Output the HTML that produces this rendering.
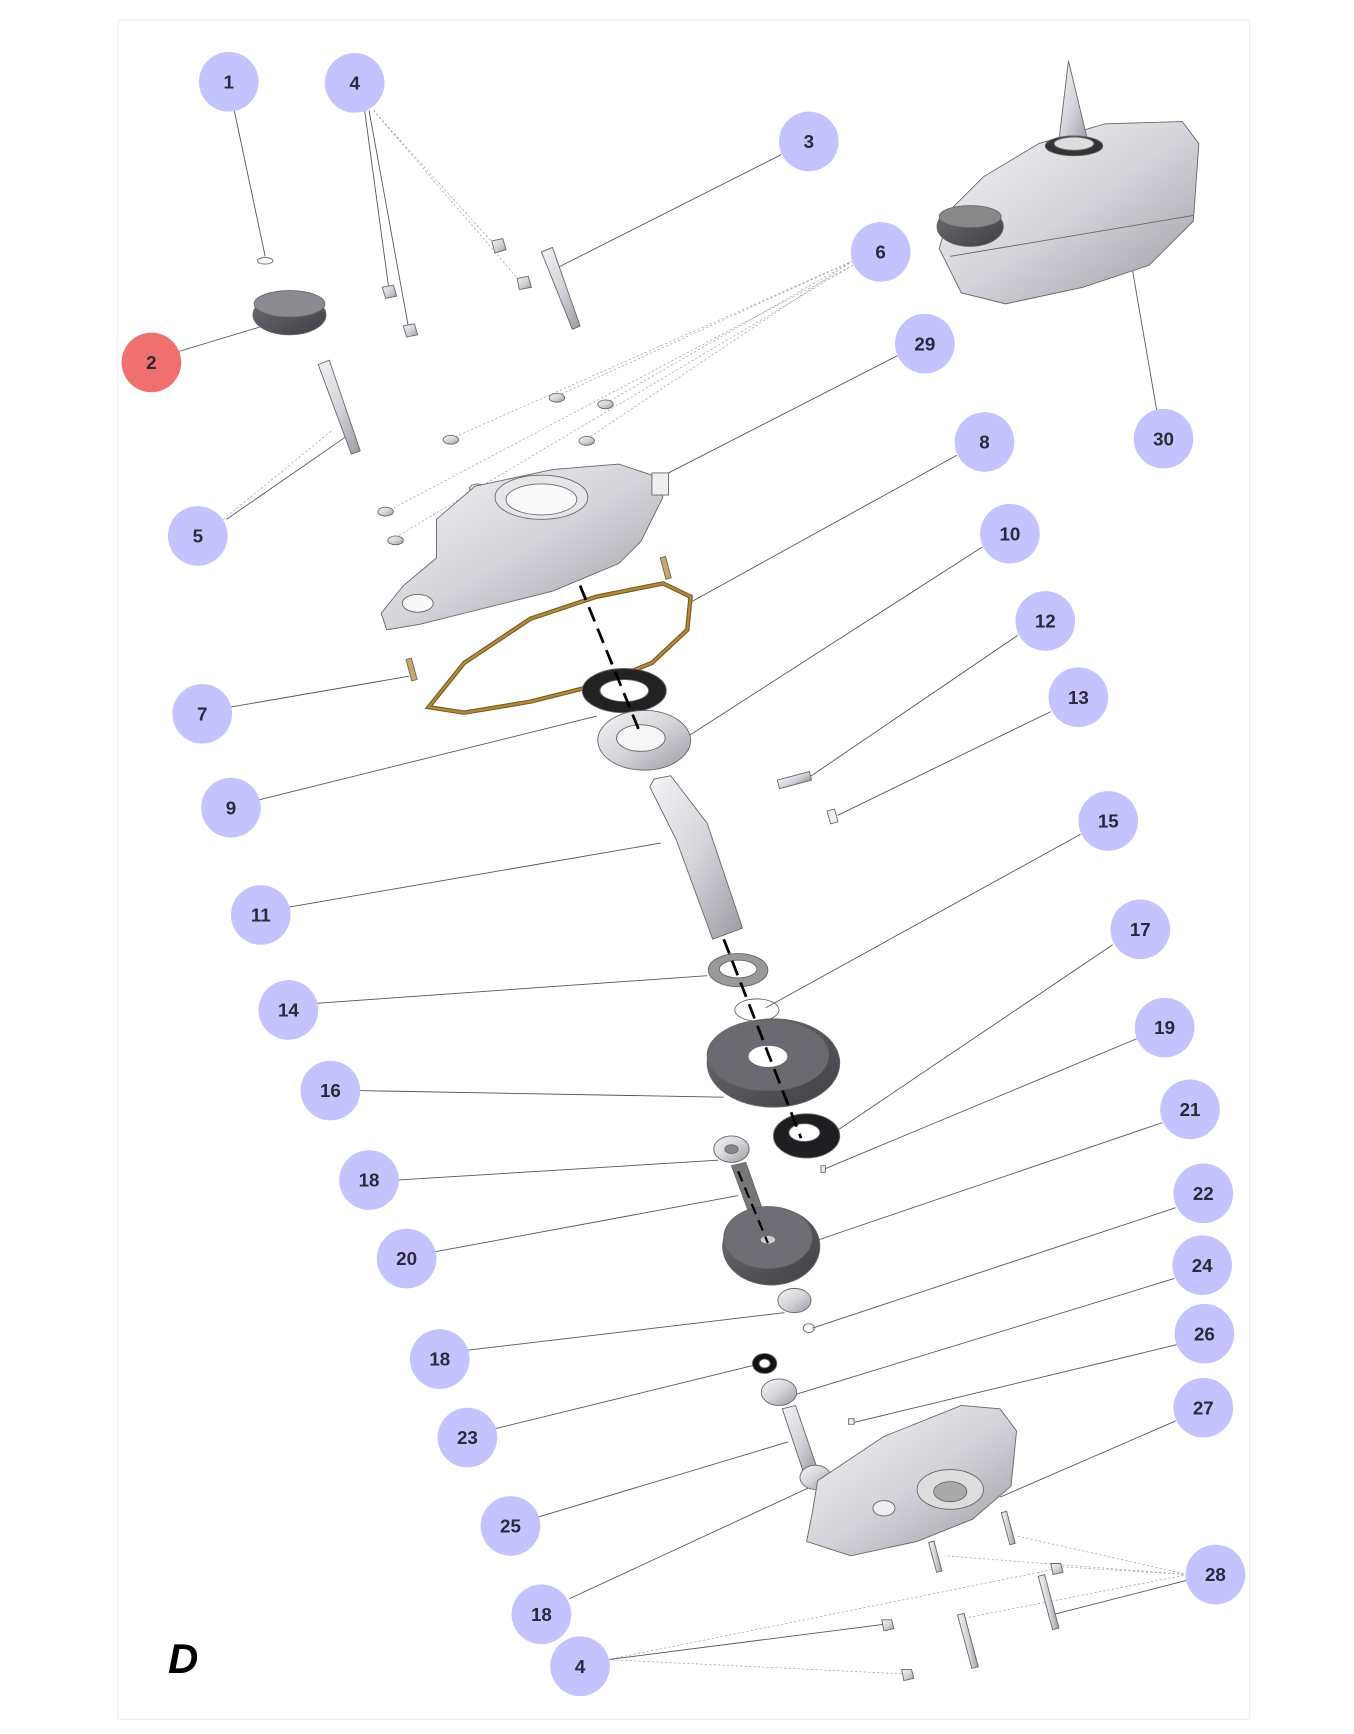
<!DOCTYPE html>
<html><head><meta charset="utf-8"><style>
html,body{margin:0;padding:0;background:#fff;width:1354px;height:1734px;overflow:hidden}
svg{display:block}
text{font-family:"Liberation Sans",sans-serif;font-weight:bold}
</style></head><body>
<svg width="1354" height="1734" viewBox="0 0 1225.4 1569.3" xmlns="http://www.w3.org/2000/svg">
<defs>
<linearGradient id="g" x1="0" y1="0" x2="1" y2="1"><stop offset="0" stop-color="#f4f4f6"/><stop offset=".5" stop-color="#d4d4da"/><stop offset="1" stop-color="#9a9aa2"/></linearGradient>
<linearGradient id="dk" x1="0" y1="0" x2="1" y2="1"><stop offset="0" stop-color="#6e6e74"/><stop offset="1" stop-color="#3e3e44"/></linearGradient>
</defs>
<rect x="107" y="18" width="1024" height="1538" fill="#fff" stroke="#eeeeee" stroke-width="1"/>
<!-- leader lines -->
<g stroke="#555" stroke-width="0.8" fill="none">
<line x1="212" y1="100" x2="240" y2="232"/>
<line x1="330" y1="100" x2="352" y2="262"/>
<line x1="334" y1="100" x2="370" y2="298"/>
<line x1="707" y1="140" x2="505" y2="242"/>
<line x1="162" y1="318" x2="235" y2="296"/>
<line x1="812" y1="322" x2="605" y2="428"/>
<line x1="1047" y1="372" x2="1025" y2="245"/>
<line x1="866" y1="412" x2="625" y2="545"/>
<line x1="205" y1="470" x2="312" y2="396"/>
<line x1="889" y1="495" x2="620" y2="668"/>
<line x1="921" y1="575" x2="730" y2="705"/>
<line x1="951" y1="644" x2="758" y2="738"/>
<line x1="208" y1="640" x2="370" y2="612"/>
<line x1="234" y1="724" x2="540" y2="648"/>
<line x1="978" y1="755" x2="693" y2="912"/>
<line x1="261" y1="821" x2="598" y2="763"/>
<line x1="1007" y1="855" x2="740" y2="1035"/>
<line x1="286" y1="908" x2="640" y2="883"/>
<line x1="1029" y1="940" x2="746" y2="1058"/>
<line x1="324" y1="987" x2="655" y2="993"/>
<line x1="1052" y1="1016" x2="738" y2="1123"/>
<line x1="359" y1="1068" x2="650" y2="1050"/>
<line x1="1064" y1="1093" x2="735" y2="1202"/>
<line x1="393" y1="1133" x2="668" y2="1082"/>
<line x1="1063" y1="1157" x2="720" y2="1262"/>
<line x1="423" y1="1222" x2="710" y2="1188"/>
<line x1="1065" y1="1217" x2="770" y2="1288"/>
<line x1="448" y1="1293" x2="685" y2="1235"/>
<line x1="1064" y1="1286" x2="905" y2="1355"/>
<line x1="487" y1="1373" x2="713" y2="1305"/>
<line x1="515" y1="1447" x2="733" y2="1346"/>
<line x1="1075" y1="1430" x2="950" y2="1462"/>
<line x1="550" y1="1502" x2="800" y2="1470"/>
</g>
<g stroke="#999" stroke-width="0.6" fill="none" stroke-dasharray="2 2">
<line x1="338" y1="100" x2="448" y2="222"/><line x1="338" y1="100" x2="472" y2="256"/>
<line x1="772" y1="236" x2="505" y2="358"/><line x1="772" y1="236" x2="548" y2="365"/>
<line x1="772" y1="236" x2="530" y2="398"/><line x1="772" y1="236" x2="408" y2="397"/>
<line x1="772" y1="240" x2="350" y2="463"/><line x1="772" y1="240" x2="355" y2="488"/>
<line x1="202" y1="470" x2="300" y2="390"/>
<line x1="1075" y1="1425" x2="920" y2="1390"/><line x1="1075" y1="1425" x2="855" y2="1408"/>
<line x1="1075" y1="1425" x2="960" y2="1418"/><line x1="1075" y1="1425" x2="870" y2="1465"/>
<line x1="550" y1="1502" x2="955" y2="1420"/><line x1="550" y1="1502" x2="820" y2="1515"/>
</g>
<!-- parts -->
<g stroke="#666" stroke-width="0.8">
<ellipse cx="240" cy="236" rx="7" ry="3" fill="none"/>
<ellipse cx="262" cy="285" rx="33" ry="18" fill="url(#dk)"/>
<ellipse cx="262" cy="275" rx="32" ry="12" fill="#8a8a90"/>
<polygon points="445,218 455,216 458,226 448,229" fill="url(#g)"/>
<polygon points="468,252 478,250 481,260 470,262" fill="url(#g)"/>
<polygon points="346,260 356,258 359,268 349,270" fill="url(#g)"/>
<polygon points="365,295 375,293 378,303 368,305" fill="url(#g)"/>
<polygon points="490,228 500,224 525,295 518,298" fill="url(#g)"/>
<polygon points="288,330 298,326 326,408 318,411" fill="url(#g)"/>
<ellipse cx="504" cy="360" rx="7" ry="4" fill="url(#g)"/><ellipse cx="548" cy="366" rx="7" ry="4" fill="url(#g)"/>
<ellipse cx="408" cy="398" rx="7" ry="4" fill="url(#g)"/><ellipse cx="531" cy="399" rx="7" ry="4" fill="url(#g)"/>
<ellipse cx="432" cy="442" rx="7" ry="4" fill="url(#g)"/><ellipse cx="349" cy="463" rx="7" ry="4" fill="url(#g)"/>
<ellipse cx="358" cy="489" rx="7" ry="4" fill="url(#g)"/>
<!-- cover 29 -->
<path d="M395,470 L430,440 L500,425 L560,420 L590,430 L600,450 L580,490 L560,510 L500,535 L420,555 L380,565 L350,570 L345,555 L365,530 L395,505 Z" fill="url(#g)"/>
<ellipse cx="490" cy="450" rx="42" ry="20" fill="#e6e6ea"/><ellipse cx="490" cy="452" rx="32" ry="14" fill="#fafafa"/>
<ellipse cx="378" cy="546" rx="14" ry="8" fill="#f8f8f8"/>
<rect x="590" y="428" width="15" height="20" fill="#eee"/>
<!-- gasket -->
<path d="M388,640 L420,600 L480,560 L540,540 L600,528 L625,540 L622,570 L590,600 L540,620 L480,635 L420,645 Z" fill="none" stroke="#7a5a1a" stroke-width="4"/>
<path d="M388,640 L420,600 L480,560 L540,540 L600,528 L625,540 L622,570 L590,600 L540,620 L480,635 L420,645 Z" fill="none" stroke="#b08a44" stroke-width="2"/>
<rect x="370" y="596" width="5" height="20" fill="#c9a86a" transform="rotate(-15 372 606)"/>
<rect x="600" y="504" width="5" height="20" fill="#c9a86a" transform="rotate(-15 602 514)"/>
<!-- seal 9 -->
<ellipse cx="565" cy="625" rx="38" ry="20" fill="#222"/><ellipse cx="565" cy="625" rx="22" ry="10" fill="#fff"/>
<!-- bearing 10 -->
<ellipse cx="583" cy="670" rx="42" ry="27" fill="url(#g)"/><ellipse cx="580" cy="668" rx="22" ry="12" fill="#f6f6f6"/>
<!-- shaft 11 -->
<path d="M592,705 L607,702 L640,745 L672,840 L645,850 L612,760 L588,712 Z" fill="url(#g)"/>
<rect x="704" y="702" width="30" height="8" fill="url(#g)" transform="rotate(-15 719 706)"/>
<rect x="750" y="733" width="7" height="12" fill="#eee" transform="rotate(-15 753 739)"/>
<!-- 14 -->
<ellipse cx="668" cy="878" rx="27" ry="15" fill="#999"/><ellipse cx="668" cy="877" rx="17" ry="8" fill="#fff"/>
<ellipse cx="685" cy="914" rx="20" ry="10" fill="none"/>
<!-- gear 16 -->
<ellipse cx="700" cy="962" rx="60" ry="40" fill="url(#dk)"/><ellipse cx="695" cy="955" rx="55" ry="32" fill="#6a6a70"/>
<ellipse cx="695" cy="956" rx="18" ry="10" fill="#fff"/>
<!-- 17 -->
<ellipse cx="730" cy="1028" rx="30" ry="20" fill="#1e1e22"/><ellipse cx="728" cy="1025" rx="14" ry="8" fill="#fff"/>
<rect x="743" y="1055" width="4" height="6" fill="#eee"/>
<!-- 18 bearing -->
<ellipse cx="662" cy="1040" rx="16" ry="12" fill="url(#g)"/><ellipse cx="662" cy="1040" rx="6" ry="4" fill="#888"/>
<path d="M662,1055 L675,1052 L692,1100 L680,1104 Z" fill="#777"/>
<!-- gear 21 -->
<ellipse cx="698" cy="1128" rx="44" ry="35" fill="url(#dk)"/><ellipse cx="695" cy="1120" rx="40" ry="28" fill="#6e6e74"/>
<ellipse cx="695" cy="1122" rx="7" ry="4" fill="#ccc"/>
<ellipse cx="719" cy="1177" rx="15" ry="11" fill="url(#g)"/><ellipse cx="732" cy="1202" rx="5" ry="4" fill="none"/>
<ellipse cx="692" cy="1234" rx="11" ry="9" fill="#111"/><ellipse cx="692" cy="1234" rx="5" ry="4" fill="#fff"/>
<ellipse cx="705" cy="1260" rx="16" ry="12" fill="url(#g)"/>
<path d="M708,1275 L720,1272 L740,1330 L728,1335 Z" fill="url(#g)"/>
<ellipse cx="738" cy="1337" rx="14" ry="11" fill="url(#g)"/>
<rect x="768" y="1284" width="5" height="5" fill="#eee"/>
<!-- bottom housing 27 -->
<path d="M740,1340 L800,1300 L870,1272 L905,1275 L920,1295 L915,1345 L880,1375 L830,1395 L770,1408 L730,1395 L735,1370 Z" fill="url(#g)"/>
<ellipse cx="860" cy="1348" rx="30" ry="18" fill="#ddd"/><ellipse cx="860" cy="1350" rx="15" ry="9" fill="#aaa"/>
<ellipse cx="800" cy="1365" rx="10" ry="7" fill="#eee"/>
<rect x="844" y="1395" width="5" height="28" fill="url(#g)" transform="rotate(-15 846 1409)"/>
<rect x="910" y="1368" width="5" height="30" fill="url(#g)" transform="rotate(-15 912 1383)"/>
<rect x="946" y="1425" width="6" height="50" fill="url(#g)" transform="rotate(-15 949 1450)"/>
<rect x="873" y="1460" width="6" height="50" fill="url(#g)" transform="rotate(-15 876 1485)"/>
<polygon points="951,1415 960,1415 962,1423 953,1425" fill="url(#g)"/>
<polygon points="798,1466 807,1466 809,1474 800,1476" fill="url(#g)"/>
<polygon points="816,1511 825,1511 827,1519 818,1521" fill="url(#g)"/>
<!-- assembly 30 -->
<path d="M860,190 L890,160 L940,130 L1000,112 L1070,110 L1085,130 L1080,200 L1040,240 L980,260 L910,275 L870,265 L850,225 Z" fill="url(#g)"/>
<path d="M958,130 L967,55 L985,130 Z" fill="url(#g)"/>
<ellipse cx="972" cy="132" rx="26" ry="9" fill="#333"/><ellipse cx="972" cy="130" rx="18" ry="6" fill="#ddd"/>
<ellipse cx="878" cy="205" rx="30" ry="18" fill="url(#dk)"/><ellipse cx="878" cy="196" rx="28" ry="10" fill="#888"/>
<line x1="860" y1="232" x2="1080" y2="195" stroke="#666"/>
</g>
<!-- dashed axis -->
<line x1="525" y1="530" x2="580" y2="665" stroke="#000" stroke-width="2.5" stroke-dasharray="14 7"/>
<line x1="655" y1="850" x2="725" y2="1030" stroke="#000" stroke-width="2.5" stroke-dasharray="14 7"/>
<line x1="668" y1="1060" x2="695" y2="1125" stroke="#000" stroke-width="2" stroke-dasharray="10 6"/>
<!-- labels -->
<g fill="#c4c3ff">
<circle cx="207" cy="74" r="27"/><circle cx="321" cy="75" r="27"/><circle cx="732" cy="128" r="27"/>
<circle cx="797" cy="228" r="27"/><circle cx="837" cy="311" r="27"/><circle cx="1053" cy="397" r="27"/>
<circle cx="891" cy="400" r="27"/><circle cx="179" cy="485" r="27"/><circle cx="914" cy="483" r="27"/>
<circle cx="946" cy="562" r="27"/><circle cx="976" cy="631" r="27"/><circle cx="183" cy="646" r="27"/>
<circle cx="209" cy="731" r="27"/><circle cx="1003" cy="743" r="27"/><circle cx="236" cy="828" r="27"/>
<circle cx="1032" cy="841" r="27"/><circle cx="261" cy="914" r="27"/><circle cx="1054" cy="930" r="27"/>
<circle cx="299" cy="987" r="27"/><circle cx="1077" cy="1004" r="27"/><circle cx="334" cy="1068" r="27"/>
<circle cx="1089" cy="1080" r="27"/><circle cx="368" cy="1139" r="27"/><circle cx="1088" cy="1145" r="27"/>
<circle cx="398" cy="1230" r="27"/><circle cx="1090" cy="1207" r="27"/><circle cx="423" cy="1301" r="27"/>
<circle cx="1089" cy="1274" r="27"/><circle cx="462" cy="1381" r="27"/><circle cx="1100" cy="1425" r="27"/>
<circle cx="490" cy="1461" r="27"/><circle cx="525" cy="1508" r="27"/>
</g>
<circle cx="137" cy="328" r="27" fill="#f07070"/>
<g font-size="17" fill="#2a2a3a" text-anchor="middle">
<text x="207" y="80">1</text><text x="321" y="81">4</text><text x="732" y="134">3</text>
<text x="797" y="234">6</text><text x="837" y="317">29</text><text x="1053" y="403">30</text>
<text x="891" y="406">8</text><text x="179" y="491">5</text><text x="914" y="489">10</text>
<text x="946" y="568">12</text><text x="976" y="637">13</text><text x="183" y="652">7</text>
<text x="209" y="737">9</text><text x="1003" y="749">15</text><text x="236" y="834">11</text>
<text x="1032" y="847">17</text><text x="261" y="920">14</text><text x="1054" y="936">19</text>
<text x="299" y="993">16</text><text x="1077" y="1010">21</text><text x="334" y="1074">18</text>
<text x="1089" y="1086">22</text><text x="368" y="1145">20</text><text x="1088" y="1151">24</text>
<text x="398" y="1236">18</text><text x="1090" y="1213">26</text><text x="423" y="1307">23</text>
<text x="1089" y="1280">27</text><text x="462" y="1387">25</text><text x="1100" y="1431">28</text>
<text x="490" y="1467">18</text><text x="525" y="1514">4</text>
<text x="137" y="334">2</text>
</g>
<text x="152" y="1514" font-size="38" font-style="italic" fill="#000">D</text>
</svg>
</body></html>
